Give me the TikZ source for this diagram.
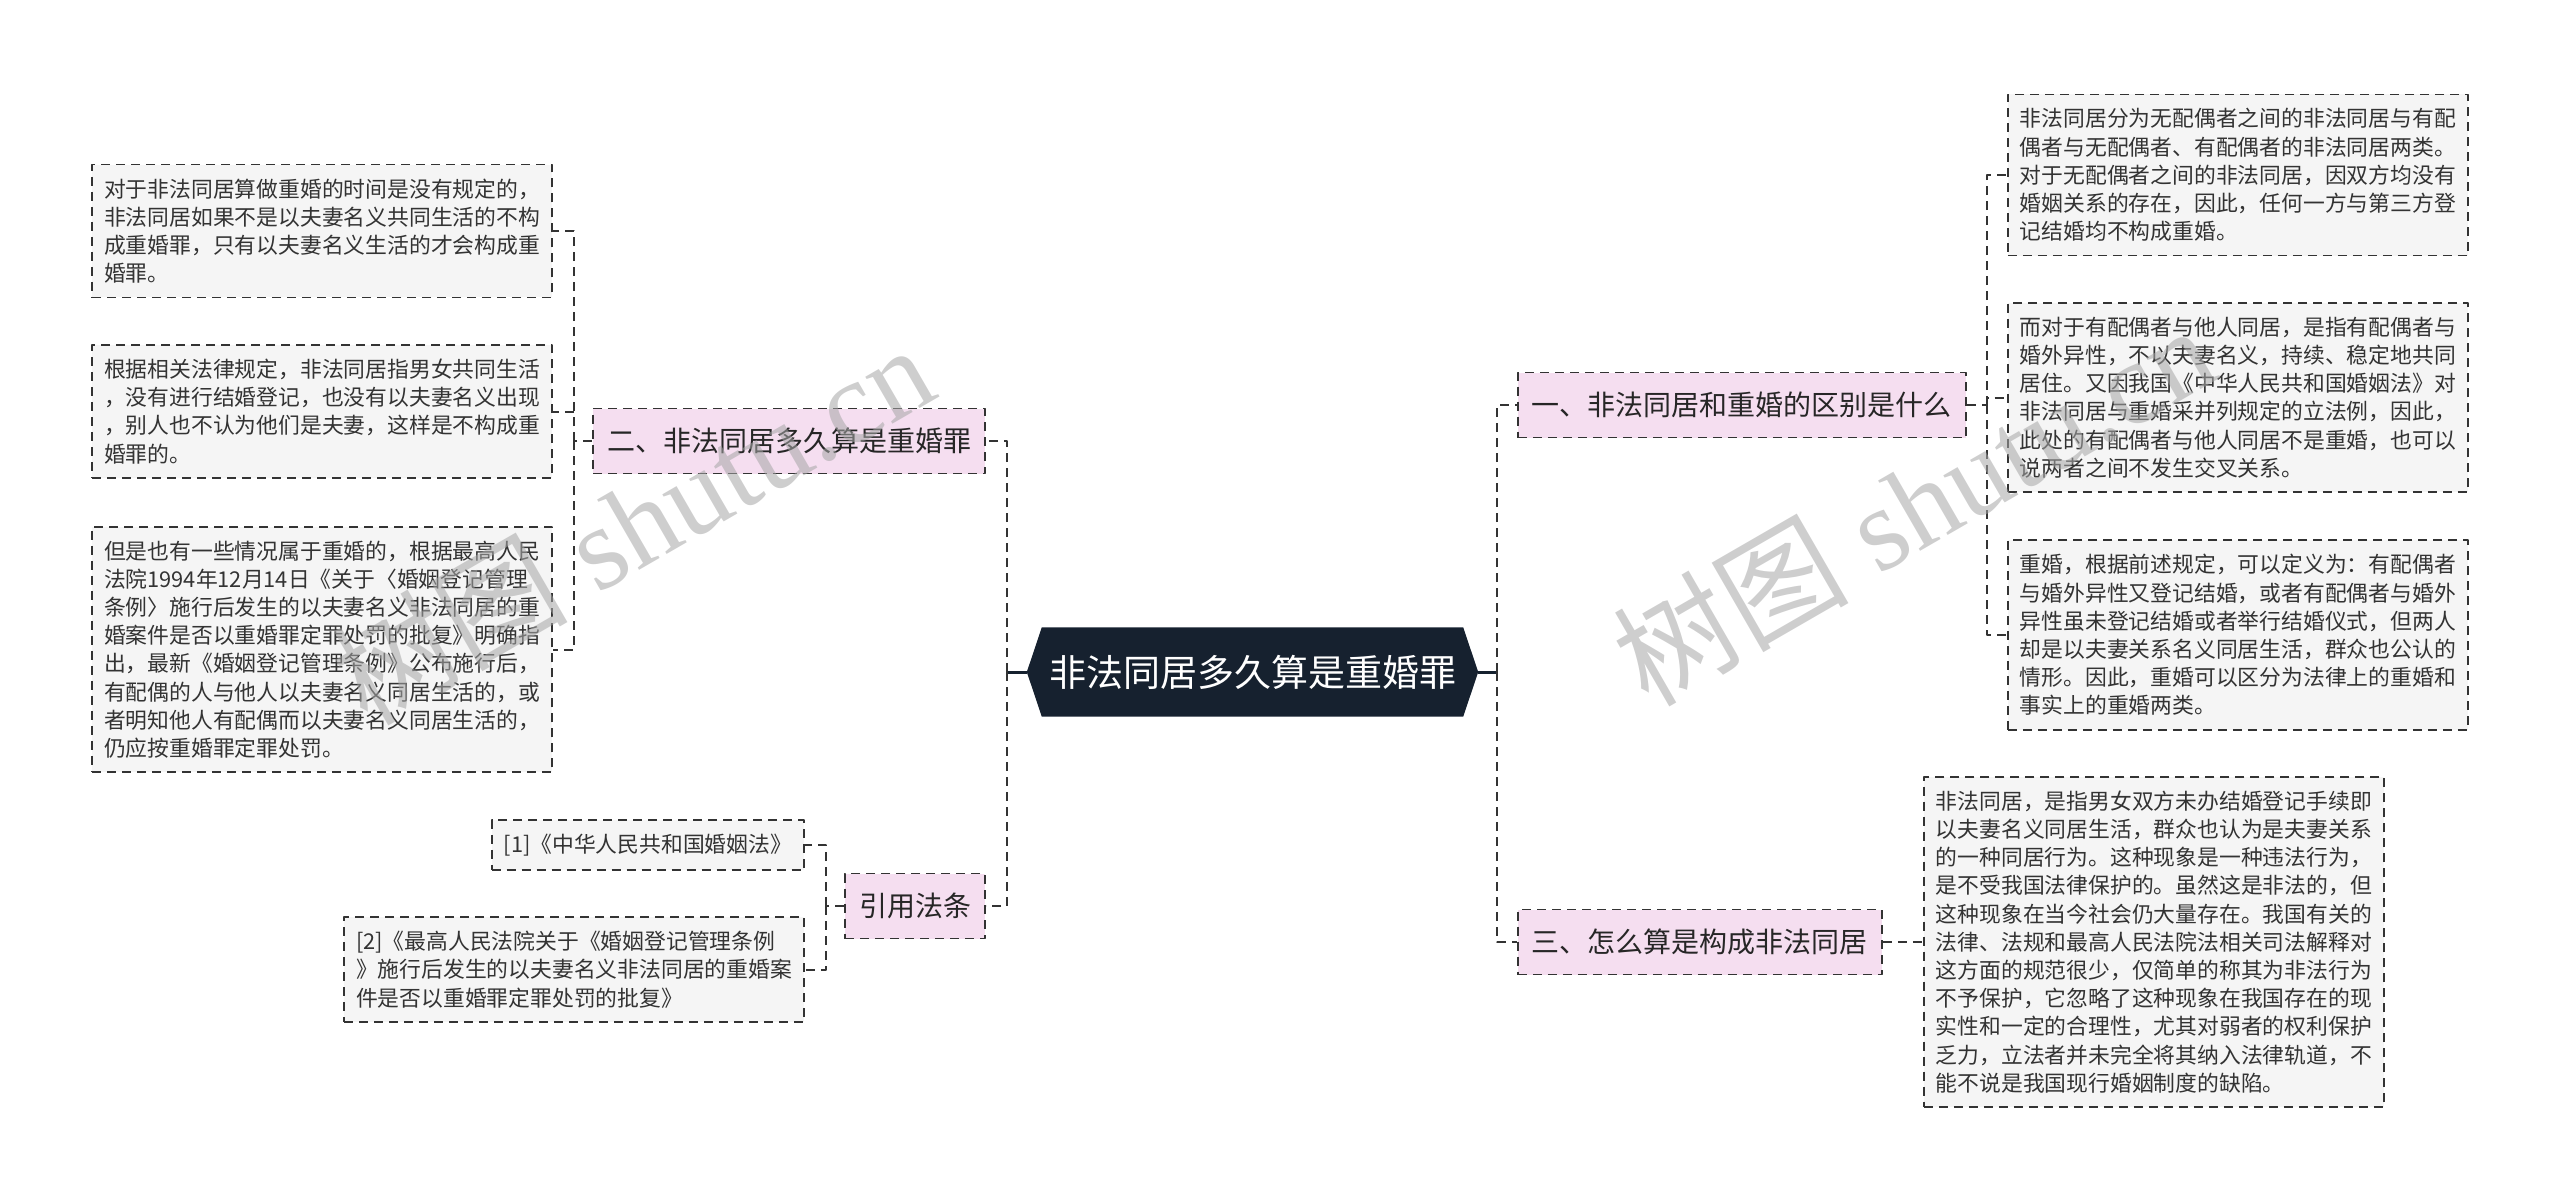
\documentclass[tikz,border=0pt]{standalone}
\usepackage{fontspec}
\newfontfamily\cjk{Noto Sans CJK SC}
\newfontfamily\wmserif{Liberation Serif}
\usetikzlibrary{backgrounds}
\definecolor{navy}{HTML}{16212F}
\definecolor{pinkbg}{HTML}{F5DEF0}
\definecolor{leafbg}{HTML}{F5F5F5}
\definecolor{ink}{HTML}{333333}

\begin{document}
\begin{tikzpicture}[x=1pt, y=-1pt, line join=round,
    topic/.style={inner sep=0pt, minimum width=451pt, minimum height=89pt,
      text=white, font=\cjk\fontsize{37}{44}\selectfont},
    branch/.style={draw=ink, dash pattern=on 9pt off 6pt, line width=1.8pt,
      fill=pinkbg, inner xsep=14pt, minimum height=65pt, text=black!85,
      font=\cjk\fontsize{28}{34}\selectfont},
    leaf/.style={draw=ink, dash pattern=on 9pt off 6pt, line width=1.8pt,
      fill=leafbg, align=left, inner xsep=12pt, inner ysep=14pt, text=ink,
      font=\cjk\fontsize{21.8}{28.2}\selectfont},
    wide/.style={minimum width=460pt},
    link/.style={draw=ink, line width=2pt, dash pattern=on 9pt off 6pt},
    stem/.style={draw=navy, line width=3pt},
    wmark/.style={rotate=30, text=black!35, opacity=0.55,
      font=\wmserif\fontsize{118}{118}\selectfont}]
  \useasboundingbox (0,0) rectangle (2560,1202);
  % 中心主题
  \node[topic] (root) at (1252.5,672) {非法同居多久算是重婚罪};
  \begin{scope}[on background layer]
    \fill[navy] (root.west) -- ([xshift=15pt]root.north west)
      -- ([xshift=-15pt]root.north east) -- (root.east)
      -- ([xshift=-15pt]root.south east) -- ([xshift=15pt]root.south west) -- cycle;
  \end{scope}
  \coordinate (lj) at (1007,672);
  \coordinate (rj) at (1497,672);
  % 左：二、引用法条
  \node[branch, anchor=east] (q2) at (986,441) {二、非法同居多久算是重婚罪};
  \node[branch, anchor=east] (law) at (986,906) {引用法条};
  \coordinate (q2j) at (574,441);
  \coordinate (lawj) at (826,906);
  \node[leaf, wide, anchor=east] (q2a) at (553,231) {对于非法同居算做重婚的时间是没有规定的，\\非法同居如果不是以夫妻名义共同生活的不构\\成重婚罪，只有以夫妻名义生活的才会构成重\\婚罪。};
  \node[leaf, wide, anchor=east] (q2b) at (553,411.5) {根据相关法律规定，非法同居指男女共同生活\\，没有进行结婚登记，也没有以夫妻名义出现\\，别人也不认为他们是夫妻，这样是不构成重\\婚罪的。};
  \node[leaf, wide, anchor=east] (q2c) at (553,649.5) {但是也有一些情况属于重婚的，根据最高人民\\法院1994年12月14日《关于〈婚姻登记管理\\条例〉施行后发生的以夫妻名义非法同居的重\\婚案件是否以重婚罪定罪处罚的批复》明确指\\出，最新《婚姻登记管理条例》公布施行后，\\有配偶的人与他人以夫妻名义同居生活的，或\\者明知他人有配偶而以夫妻名义同居生活的，\\仍应按重婚罪定罪处罚。};
  \node[leaf, anchor=east] (lawa) at (805,845) {[1]《中华人民共和国婚姻法》};
  \node[leaf, wide, anchor=east] (lawb) at (805,969.5) {[2]《最高人民法院关于《婚姻登记管理条例\\》施行后发生的以夫妻名义非法同居的重婚案\\件是否以重婚罪定罪处罚的批复》};
  % 右：一、三
  \node[branch, anchor=west] (q1) at (1517,405) {一、非法同居和重婚的区别是什么};
  \node[branch, anchor=west] (q3) at (1517,942) {三、怎么算是构成非法同居};
  \coordinate (q1j) at (1987,405);
  \coordinate (q3j) at (1903,942);
  \node[leaf, wide, anchor=west] (q1a) at (2007,175) {非法同居分为无配偶者之间的非法同居与有配\\偶者与无配偶者、有配偶者的非法同居两类。\\对于无配偶者之间的非法同居，因双方均没有\\婚姻关系的存在，因此，任何一方与第三方登\\记结婚均不构成重婚。};
  \node[leaf, wide, anchor=west] (q1b) at (2007,397.5) {而对于有配偶者与他人同居，是指有配偶者与\\婚外异性，不以夫妻名义，持续、稳定地共同\\居住。又因我国《中华人民共和国婚姻法》对\\非法同居与重婚采并列规定的立法例，因此，\\此处的有配偶者与他人同居不是重婚，也可以\\说两者之间不发生交叉关系。};
  \node[leaf, wide, anchor=west] (q1c) at (2007,635) {重婚，根据前述规定，可以定义为：有配偶者\\与婚外异性又登记结婚，或者有配偶者与婚外\\异性虽未登记结婚或者举行结婚仪式，但两人\\却是以夫妻关系名义同居生活，群众也公认的\\情形。因此，重婚可以区分为法律上的重婚和\\事实上的重婚两类。};
  \node[leaf, wide, anchor=west] (q3a) at (1923,942) {非法同居，是指男女双方未办结婚登记手续即\\以夫妻名义同居生活，群众也认为是夫妻关系\\的一种同居行为。这种现象是一种违法行为，\\是不受我国法律保护的。虽然这是非法的，但\\这种现象在当今社会仍大量存在。我国有关的\\法律、法规和最高人民法院法相关司法解释对\\这方面的规范很少，仅简单的称其为非法行为\\不予保护，它忽略了这种现象在我国存在的现\\实性和一定的合理性，尤其对弱者的权利保护\\乏力，立法者并未完全将其纳入法律轨道，不\\能不说是我国现行婚姻制度的缺陷。};
  % 连线
  \draw[stem] (root.west) -- (lj);
  \draw[stem] (root.east) -- (rj);
  \draw[link] (lj) |- (q2.east);
  \draw[link] (lj) |- (law.east);
  \draw[link] (rj) |- (q1.west);
  \draw[link] (rj) |- (q3.west);
  \draw[link] (q2.west) -- (q2j);
  \draw[link] (q2j) |- (q2a.east);
  \draw[link] (q2j) |- (q2b.east);
  \draw[link] (q2j) |- (q2c.east);
  \draw[link] (law.west) -- (lawj);
  \draw[link] (lawj) |- (lawa.east);
  \draw[link] (lawj) |- (lawb.east);
  \draw[link] (q1.east) -- (q1j);
  \draw[link] (q1j) |- (q1a.west);
  \draw[link] (q1j) |- (q1b.west);
  \draw[link] (q1j) |- (q1c.west);
  \draw[link] (q3.east) -- (q3j) -- (q3a.west);
  % 水印
  \node[wmark] (wmL) at (632,523) {{\cjk 树图} shutu.cn};
  \node[wmark] (wmR) at (1913,504) {{\cjk 树图} shutu.cn};
\end{tikzpicture}
\end{document}
